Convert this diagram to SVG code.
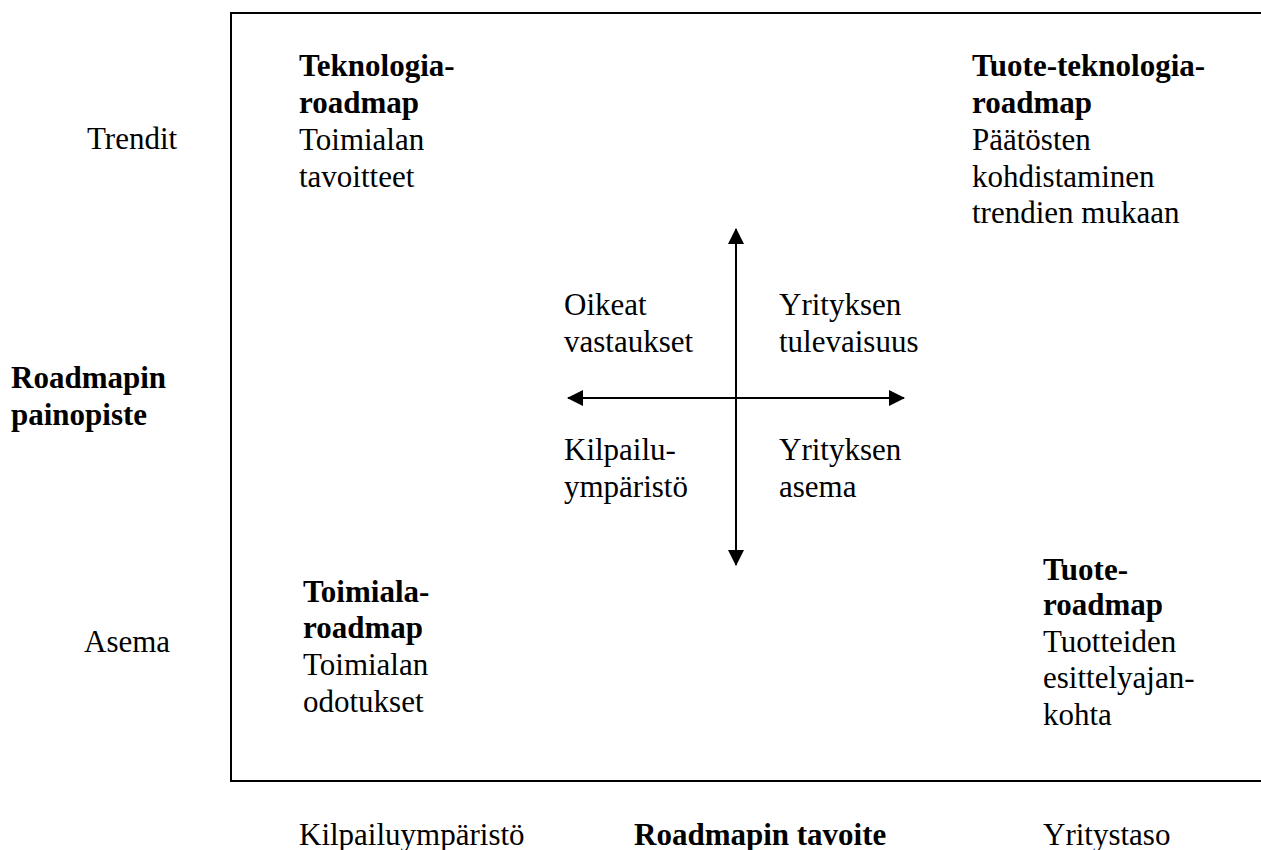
<svg xmlns="http://www.w3.org/2000/svg" width="1261" height="850" viewBox="0 0 1261 850">
  <style>
    text { font-family: "Liberation Serif", "Times New Roman", serif; font-size: 31px; fill: #000; }
    .b { font-weight: bold; }
    .frame { fill: none; stroke: #000; stroke-width: 2; }
    .axis { stroke: #000; stroke-width: 2; fill: none; }
  </style>
  <defs>
    <marker id="head" viewBox="0 0 16 16" refX="15" refY="8" markerWidth="16" markerHeight="16" markerUnits="userSpaceOnUse" orient="auto-start-reverse">
      <path d="M0,0 L16,8 L0,16 Z" fill="#000"/>
    </marker>
  </defs>

  <rect width="1261" height="850" fill="#fff"/>

  <!-- matrix frame (right side runs past the page edge) -->
  <path class="frame" d="M1270,13 H231 V781 H1270"/>

  <!-- axis labels -->
  <g id="axis-labels">
    <text x="87" y="149">Trendit</text>
    <text x="84" y="652">Asema</text>
    <text class="b"><tspan x="11" y="388">Roadmapin</tspan><tspan x="11" y="425">painopiste</tspan></text>
    <text x="299" y="845">Kilpailuympäristö</text>
    <text class="b" x="634" y="845">Roadmapin tavoite</text>
    <text x="1043" y="845">Yritystaso</text>
  </g>

  <!-- quadrant nodes -->
  <g id="teknologia-roadmap">
    <text class="b"><tspan x="299" y="76">Teknologia-</tspan><tspan x="299" y="113">roadmap</tspan></text>
    <text><tspan x="299" y="150">Toimialan</tspan><tspan x="299" y="187">tavoitteet</tspan></text>
  </g>
  <g id="tuote-teknologia-roadmap">
    <text class="b"><tspan x="972" y="76">Tuote-teknologia-</tspan><tspan x="972" y="113">roadmap</tspan></text>
    <text><tspan x="972" y="150">Päätösten</tspan><tspan x="972" y="187">kohdistaminen</tspan><tspan x="972" y="223">trendien mukaan</tspan></text>
  </g>
  <g id="toimiala-roadmap">
    <text class="b"><tspan x="303" y="602">Toimiala-</tspan><tspan x="303" y="638">roadmap</tspan></text>
    <text><tspan x="303" y="675">Toimialan</tspan><tspan x="303" y="712">odotukset</tspan></text>
  </g>
  <g id="tuote-roadmap">
    <text class="b"><tspan x="1043" y="580">Tuote-</tspan><tspan x="1043" y="615">roadmap</tspan></text>
    <text><tspan x="1043" y="652">Tuotteiden</tspan><tspan x="1043" y="688">esittelyajan-</tspan><tspan x="1043" y="725">kohta</tspan></text>
  </g>

  <!-- central cross labels -->
  <g id="cross-labels">
    <text><tspan x="564" y="315">Oikeat</tspan><tspan x="564" y="352">vastaukset</tspan></text>
    <text><tspan x="779" y="315">Yrityksen</tspan><tspan x="779" y="352">tulevaisuus</tspan></text>
    <text><tspan x="564" y="460">Kilpailu-</tspan><tspan x="564" y="497">ympäristö</tspan></text>
    <text><tspan x="779" y="460">Yrityksen</tspan><tspan x="779" y="497">asema</tspan></text>
  </g>

  <!-- connectors: double-headed axes -->
  <g id="connectors">
    <line class="axis" x1="736" y1="229" x2="736" y2="565" marker-start="url(#head)" marker-end="url(#head)"/>
    <line class="axis" x1="568" y1="398" x2="904" y2="398" marker-start="url(#head)" marker-end="url(#head)"/>
  </g>
</svg>
